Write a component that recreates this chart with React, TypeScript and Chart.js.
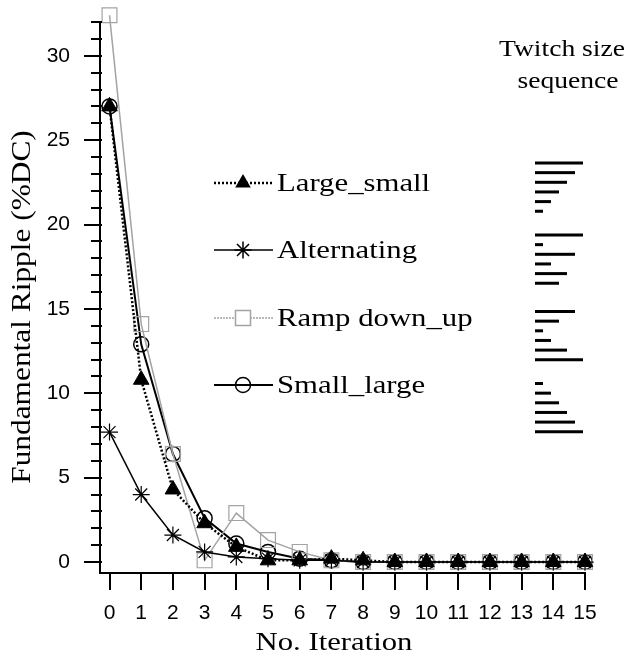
import React, { useEffect, useRef } from 'react';
import { Chart, registerables } from 'chart.js';

Chart.register(...registerables);

// ---------- data ----------
const iterations = [0, 1, 2, 3, 4, 5, 6, 7, 8, 9, 10, 11, 12, 13, 14, 15];
const largeSmall = [27.0, 10.8, 4.3, 2.3, 0.9, 0.1, 0.1, 0.2, 0.1, 0, 0, 0, 0, 0, 0, 0];
const alternating = [7.7, 4.0, 1.6, 0.6, 0.3, 0.2, 0.1, 0.1, 0, 0, 0, 0, 0, 0, 0, 0];
const rampDownUp = [32.4, 14.1, 6.4, 0.1, 2.9, 1.3, 0.6, 0.1, 0, 0, 0, 0, 0, 0, 0, 0];
const smallLarge = [27.0, 12.9, 6.4, 2.6, 1.1, 0.6, 0.2, 0.1, 0, 0, 0, 0, 0, 0, 0, 0];

const xTickValues = [0, 1, 2, 3, 4, 5, 6, 7, 8, 9, 10, 11, 12, 13, 14, 15];
const yMajorTicks = [0, 5, 10, 15, 20, 25, 30];
const yMinorTicks = [0, 1, 2, 3, 4, 5, 6, 7, 8, 9, 10, 11, 12, 13, 14, 15, 16, 17, 18, 19, 20, 21, 22, 23, 24, 25, 26, 27, 28, 29, 30, 31, 32];

const seriesNames = ['Large_small', 'Alternating', 'Ramp down_up', 'Small_large'];

// twitch size sequences (relative sizes, top to bottom)
const twitchLargeSmall = [6, 5, 4, 3, 2, 1];
const twitchAlternating = [6, 1, 5, 2, 4, 3];
const twitchRamp = [5, 3, 1, 2, 4, 6];
const twitchSmallLarge = [1, 2, 3, 4, 5, 6];
const twitchGroups = [twitchLargeSmall, twitchAlternating, twitchRamp, twitchSmallLarge];

const SERIF = '"Liberation Serif", "Times New Roman", serif';
const SANS = '"Liberation Sans", Arial, sans-serif';
const GRAY = '#a3a3a3';

function pts(values: number[]) {
  return values.map((v, i) => ({ x: iterations[i], y: v }));
}

function drawMarker(ctx: CanvasRenderingContext2D, style: string, x: number, y: number, color: string) {
  ctx.save();
  ctx.strokeStyle = color;
  ctx.fillStyle = color;
  ctx.setLineDash([]);
  ctx.lineWidth = 1.5;
  ctx.beginPath();
  if (style === 'triangle') {
    const r = 9;
    ctx.moveTo(x, y - r);
    ctx.lineTo(x + r * 0.866, y + r * 0.5);
    ctx.lineTo(x - r * 0.866, y + r * 0.5);
    ctx.closePath();
    ctx.fill();
  } else if (style === 'star') {
    const r = 8.5;
    ctx.moveTo(x - r, y); ctx.lineTo(x + r, y);
    ctx.moveTo(x, y - r); ctx.lineTo(x, y + r);
    const d = r * 0.7071;
    ctx.moveTo(x - d, y - d); ctx.lineTo(x + d, y + d);
    ctx.moveTo(x - d, y + d); ctx.lineTo(x + d, y - d);
    ctx.stroke();
  } else if (style === 'rect') {
    const s = 7.5;
    ctx.fillStyle = '#fff';
    ctx.fillRect(x - s, y - s, 2 * s, 2 * s);
    ctx.strokeRect(x - s, y - s, 2 * s, 2 * s);
  } else {
    ctx.arc(x, y, 7.5, 0, Math.PI * 2);
    ctx.stroke();
  }
  ctx.restore();
}

function stretchText(ctx: CanvasRenderingContext2D, text: string, x: number, y: number, size: number, stretch: number, align: 'left' | 'center') {
  ctx.save();
  ctx.font = `${size}px ${SERIF}`;
  ctx.fillStyle = '#000';
  ctx.textBaseline = 'alphabetic';
  ctx.textAlign = 'left';
  const w = ctx.measureText(text).width * stretch;
  const x0 = align === 'center' ? x - w / 2 : x;
  ctx.translate(x0, y);
  ctx.scale(stretch, 1);
  ctx.fillText(text, 0, 0);
  ctx.restore();
}

const legendStyles = [
  { point: 'triangle', color: '#000', width: 2.5, dash: [2, 2] },
  { point: 'star', color: '#000', width: 1.5, dash: [] as number[] },
  { point: 'rect', color: GRAY, width: 1.5, dash: [2, 1] },
  { point: 'circle', color: '#000', width: 2, dash: [] as number[] },
];

const decorPlugin = {
  id: 'decor',
  afterDraw(chart: any) {
    const ctx: CanvasRenderingContext2D = chart.ctx;
    const xs = chart.scales.x;
    const ys = chart.scales.y;
    const area = chart.chartArea;
    ctx.save();
    ctx.strokeStyle = '#000';
    ctx.lineWidth = 2;
    ctx.setLineDash([]);
    yMinorTicks.forEach((v) => {
      const py = Math.round(ys.getPixelForValue(v));
      const len = yMajorTicks.includes(v) ? 16 : 9;
      ctx.beginPath();
      ctx.moveTo(area.left - len, py);
      ctx.lineTo(area.left + 2, py);
      ctx.stroke();
    });
    xTickValues.forEach((v) => {
      const px = Math.round(xs.getPixelForValue(v));
      ctx.beginPath();
      ctx.moveTo(px, area.bottom);
      ctx.lineTo(px, area.bottom + 17);
      ctx.stroke();
    });
    ctx.restore();

    stretchText(ctx, 'No. Iteration', 334, 650, 26, 1.18, 'center');
    ctx.save();
    ctx.translate(30, 307);
    ctx.rotate(-Math.PI / 2);
    stretchText(ctx, 'Fundamental Ripple (%DC)', 0, 0, 28, 1.12, 'center');
    ctx.restore();

    const legendY = [183, 250, 318, 385];
    seriesNames.forEach((name, i) => {
      const st = legendStyles[i];
      const y = legendY[i];
      ctx.save();
      ctx.strokeStyle = st.color;
      ctx.lineWidth = st.width;
      ctx.setLineDash(st.dash);
      ctx.beginPath();
      ctx.moveTo(214, y);
      ctx.lineTo(273, y);
      ctx.stroke();
      ctx.restore();
      drawMarker(ctx, st.point, 243, y, st.color);
      stretchText(ctx, name, 277, y + 8, 25, 1.23, 'left');
    });

    stretchText(ctx, 'Twitch size', 562, 56, 24, 1.15, 'center');
    stretchText(ctx, 'sequence', 568, 88, 24, 1.15, 'center');
    const groupTop = [163, 235, 311.5, 383.5];
    ctx.save();
    ctx.fillStyle = '#000';
    twitchGroups.forEach((g, gi) => {
      g.forEach((size, k) => {
        const y = groupTop[gi] + k * 9.65;
        ctx.fillRect(535, y - 1.5, size * 8, 3);
      });
    });
    ctx.restore();
  },
};

export default function App() {
  const canvasRef = useRef<HTMLCanvasElement | null>(null);

  useEffect(() => {
    document.body.style.margin = '0';
    const canvas = canvasRef.current;
    if (!canvas) return;
    const chart = new Chart(canvas, {
      type: 'line',
      data: {
        datasets: [
          {
            label: seriesNames[0],
            data: pts(largeSmall),
            borderColor: '#000',
            borderWidth: 2.5,
            borderDash: [2, 2],
            pointStyle: 'triangle',
            pointRadius: 9,
            pointBackgroundColor: '#000',
            pointBorderColor: '#000',
            pointBorderWidth: 1,
            tension: 0,
            clip: false,
          },
          {
            label: seriesNames[1],
            data: pts(alternating),
            borderColor: '#000',
            borderWidth: 1.5,
            pointStyle: 'star',
            pointRadius: 8.5,
            pointBorderColor: '#000',
            pointBorderWidth: 1.2,
            tension: 0,
            clip: false,
          },
          {
            label: seriesNames[2],
            data: pts(rampDownUp),
            borderColor: GRAY,
            borderWidth: 1.5,
            pointStyle: 'rect',
            pointRadius: 10.5,
            pointBackgroundColor: 'rgba(255,255,255,0)',
            pointBorderColor: GRAY,
            pointBorderWidth: 1.2,
            tension: 0,
            clip: false,
          },
          {
            label: seriesNames[3],
            data: pts(smallLarge),
            borderColor: '#000',
            borderWidth: 2,
            pointStyle: 'circle',
            pointRadius: 7.5,
            pointBackgroundColor: 'rgba(255,255,255,0)',
            pointBorderColor: '#000',
            pointBorderWidth: 1.5,
            tension: 0,
            clip: false,
          },
        ],
      },
      options: {
        animation: false,
        responsive: false,
        layout: { padding: { top: 22, right: 57, left: 0, bottom: 0 } },
        plugins: { legend: { display: false }, tooltip: { enabled: false } },
        scales: {
          x: {
            type: 'linear',
            min: -0.3,
            max: 15,
            afterBuildTicks: (s: any) => { s.ticks = xTickValues.map((v) => ({ value: v })); },
            afterFit: (s: any) => {
              s.height = 85;
              s.paddingLeft = 0; s.paddingRight = 0; s.paddingTop = 0; s.paddingBottom = 0;
            },
            grid: { drawOnChartArea: false, drawTicks: false },
            border: { display: true, color: '#000', width: 2 },
            ticks: {
              font: { family: SANS, size: 21 },
              color: '#000',
              padding: 28,
              maxRotation: 0,
              autoSkip: false,
              callback: (v: any) => String(v),
            },
          },
          y: {
            type: 'linear',
            min: -0.65,
            max: 32,
            afterBuildTicks: (s: any) => { s.ticks = yMajorTicks.map((v) => ({ value: v })); },
            afterFit: (s: any) => {
              s.width = 100;
              s.paddingLeft = 0; s.paddingRight = 0; s.paddingTop = 0; s.paddingBottom = 0;
            },
            grid: { drawOnChartArea: false, drawTicks: false },
            border: { display: true, color: '#000', width: 2 },
            ticks: {
              font: { family: SANS, size: 21 },
              color: '#000',
              padding: 30,
              autoSkip: false,
              callback: (v: any) => String(v),
            },
          },
        },
      },
      plugins: [decorPlugin],
    } as any);
    return () => chart.destroy();
  }, []);

  return (
    <div style={{ width: 642, height: 658 }}>
      <canvas ref={canvasRef} width={642} height={658} style={{ display: 'block' }} />
    </div>
  );
}
